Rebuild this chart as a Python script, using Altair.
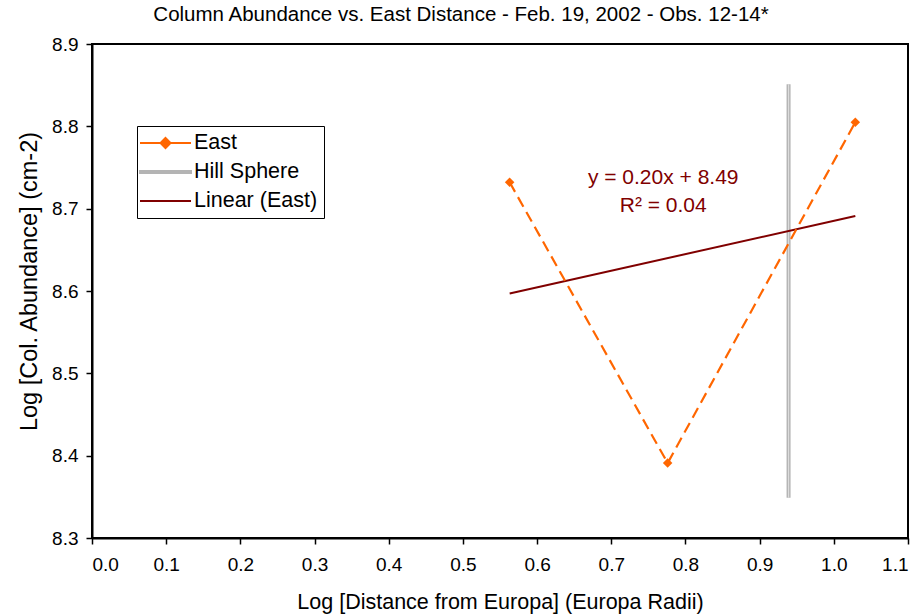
import altair as alt
import pandas as pd

# ---- data ----
east_x = [0.563, 0.776, 1.029]
east_y = [8.732, 8.391, 8.805]

hill_x = [0.939]
hill_y_low = [8.349]
hill_y_high = [8.851]

trend_x = [0.563, 1.029]
trend_y = [8.597, 8.691]

eq_lines = ["y = 0.20x + 8.49", "R\u00b2 = 0.04"]
eq_x = [0.77, 0.77]
eq_y = [8.737, 8.703]

series = ["East", "Hill Sphere", "Linear (East)"]
colors = ["#ff6600", "#b4b4b4", "#800000"]

FONT = "Liberation Sans"

east_df = pd.DataFrame({"x": east_x, "y": east_y, "series": "East"})
hill_df = pd.DataFrame({"x": hill_x, "y": hill_y_low, "y2": hill_y_high, "series": "Hill Sphere"})
trend_df = pd.DataFrame({"x": trend_x, "y": trend_y, "series": "Linear (East)"})
eq_df = pd.DataFrame({"x": eq_x, "y": eq_y, "t": eq_lines})

xscale = alt.Scale(domain=[0.0, 1.1], nice=False, zero=False)
yscale = alt.Scale(domain=[8.3, 8.9], nice=False, zero=False)

xenc = alt.X("x:Q", scale=xscale,
             axis=alt.Axis(title="Log [Distance from Europa] (Europa Radii)",
                           values=[round(0.1 * i, 1) for i in range(12)],
                           format=".1f"))
yenc = alt.Y("y:Q", scale=yscale,
             axis=alt.Axis(title="Log [Col. Abundance] (cm-2)",
                           values=[8.3, 8.4, 8.5, 8.6, 8.7, 8.8, 8.9],
                           format=".1f", titleY=237))

# legend symbol shapes (unit = 10 px): line with diamond / thick bar / thin line
legend_shapes = [
    "M-1.4,0L3.7,0M1.15,-0.5L1.65,0L1.15,0.5L0.65,0Z",
    "M-1.4,-0.1L3.7,-0.1L3.7,0.1L-1.4,0.1Z",
    "M-1.4,0L3.7,0",
]

legend = alt.Legend(
    title=None, orient="none", legendX=45, legendY=82,
    symbolSize=400, symbolStrokeWidth=2, symbolOpacity=1,
    labelFont=FONT, labelFontSize=21.5, labelColor="black", labelOffset=29,
    strokeColor="black", fillColor="white", padding=6, rowPadding=7,
    cornerRadius=0,
)

def cscale():
    return alt.Scale(domain=series, range=colors)

hill = alt.Chart(hill_df).mark_rule(strokeWidth=4, color=colors[1]).encode(
    x=xenc, y=yenc, y2="y2:Q")
hill_inner = alt.Chart(hill_df).mark_rule(strokeWidth=1.2, color="#dcdcdc").encode(
    x="x:Q", y="y:Q", y2="y2:Q")

trend = alt.Chart(trend_df).mark_line(strokeWidth=2, color=colors[2]).encode(
    x="x:Q", y="y:Q")

east_line = alt.Chart(east_df).mark_line(strokeWidth=2.2, strokeDash=[11, 6], color=colors[0]).encode(
    x="x:Q", y="y:Q")
east_pts = alt.Chart(east_df).mark_point(shape="diamond", filled=True, size=90, opacity=1,
                                         color=colors[0]).encode(x="x:Q", y="y:Q")

# invisible layer that only carries the legend
legend_layer = alt.Chart(east_df).mark_point(opacity=0, strokeWidth=2).encode(
    x="x:Q", y="y:Q",
    fill=alt.Fill("series:N", scale=cscale(), legend=legend),
    stroke=alt.Stroke("series:N", scale=cscale(), legend=legend),
    shape=alt.Shape("series:N", scale=alt.Scale(domain=series, range=legend_shapes), legend=legend),
)

eq = alt.Chart(eq_df).mark_text(font=FONT, fontSize=21, color=colors[2], align="center", baseline="middle").encode(
    x="x:Q", y="y:Q", text="t:N")

chart = alt.layer(hill, hill_inner, trend, east_line, east_pts, eq, legend_layer).properties(
    width=816, height=494,
    title=alt.TitleParams("Column Abundance vs. East Distance - Feb. 19, 2002 - Obs. 12-14*",
                          font=FONT, fontSize=20.5, fontWeight="normal", color="black",
                          anchor="middle", dx=-39, offset=10),
    autosize=alt.AutoSizeParams(type="none"),
    padding={"left": 92, "top": 44, "right": 16, "bottom": 77},
).configure_view(stroke="black", strokeWidth=2).configure_axis(
    grid=False, domainColor="black", domainWidth=2, tickColor="black", tickSize=6, tickWidth=1.5,
    labelFont=FONT, labelFontSize=19, labelColor="black",
    titleFont=FONT, titleFontWeight="normal", titleColor="black",
).configure_axisX(labelPadding=11, titlePadding=17, titleFontSize=21.5).configure_axisY(
    labelPadding=8, titlePadding=10, titleFontSize=23.5)

chart.save("out.html", embed_options={"renderer": "svg", "actions": False})
